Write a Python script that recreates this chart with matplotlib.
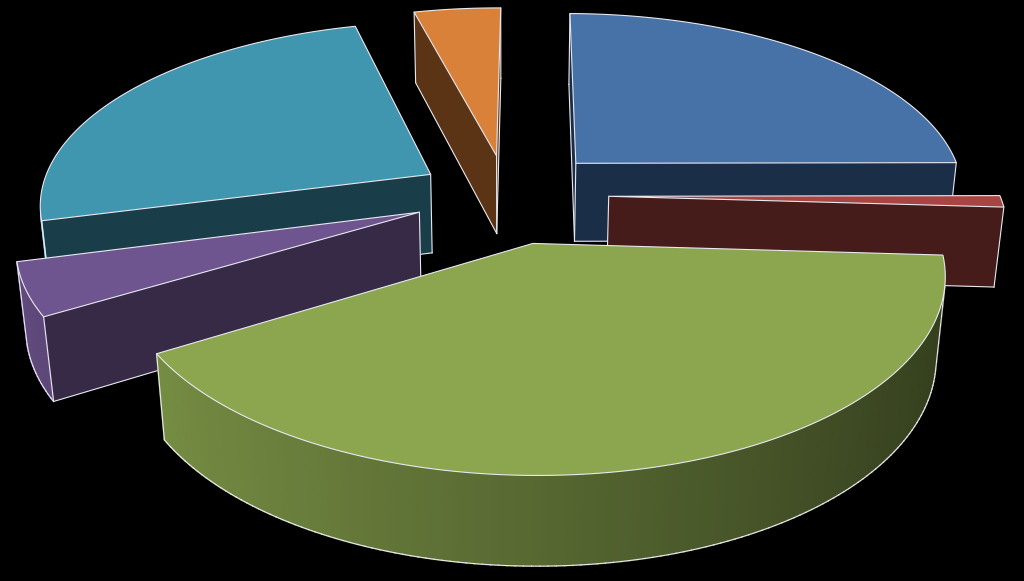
import numpy as np
import matplotlib
matplotlib.use('Agg')
import matplotlib.pyplot as plt

# share of each slice, clockwise from the start angle
labels = ['blue', 'red', 'green', 'purple', 'teal', 'orange']
values = [24.8, 1.0, 40.4, 4.55, 25.05, 4.2]
explode = [0.255, 0.26, 0.265, 0.24, 0.23, 0.225]
top_colors = ['#4672A8', '#A84442', '#8BA64F', '#6F5590', '#3F96AE', '#D98139']
wall_colors = ['#1A2E47', '#451C1A', '#7A9446', '#362A47', '#193E49', '#5B3416']
start_angle = 89.5

# camera for the fake 3d
cx, cy = 507, 195
radius, flat, depth = 391, 181, 81
persp_y, persp_z = 0.15, 0.02


def project(x, y, z):
    s = 1 / (1 + persp_y * y + persp_z * z)
    return cx + radius * x * s, cy - flat * y * s + depth * z * s


def area(q):
    q = np.array(q)
    a, b = q[:, 0], q[:, 1]
    return np.sum(a * np.roll(b, -1) - np.roll(a, -1) * b)


def shade(color, f):
    return np.array(matplotlib.colors.to_rgb(color)) * f


def draw_slice(ax, a0, a1, off, top, wall):
    mid = np.radians((a0 + a1) / 2)
    ox, oy = off * np.cos(mid), off * np.sin(mid)
    angs = np.radians(np.linspace(a0, a1, max(int(abs(a1 - a0)), 2) + 1))
    xs = np.r_[ox, ox + np.cos(angs)]
    ys = np.r_[oy, oy + np.sin(angs)]
    n = len(xs)
    pts = [project(xs[i], ys[i], 0) for i in range(n)]
    low = [project(xs[i], ys[i], 1) for i in range(n)]
    edge = '#E8E8F0'
    front = []
    for i in range(n):
        j = (i + 1) % n
        quad = [pts[i], pts[j], low[j], low[i]]
        is_front = area(quad) < 0
        front.append(is_front)
        if not is_front:
            continue
        if i == 0 or j == 0:
            col = wall
            lw = 0.3
        else:
            c = np.cos((angs[i - 1] + angs[j - 1]) / 2)
            col = shade(top, np.interp(c, [-1, 1], [0.88, 0.37]))
            lw = 1.2
        ax.fill(*zip(*quad), facecolor=col, edgecolor=col, lw=lw, zorder=2)
    for i in range(n):
        j = (i + 1) % n
        if front[i]:
            ax.plot(*zip(low[i], low[j]), color=edge, lw=0.8, zorder=2)
        # vertical line wherever the facing changes or a flat wall starts
        if front[i] != front[i - 1] or (front[i] and i in (0, 1, n - 1)):
            ax.plot(*zip(pts[i], low[i]), color=edge, lw=0.8, zorder=2)
    ax.fill(*zip(*pts), facecolor=top, edgecolor=edge, lw=0.8, zorder=2)


fig = plt.figure(figsize=(10.24, 5.81), dpi=100, facecolor='black')
ax = fig.add_axes([0, 0, 1, 1])
ax.set_xlim(0, 1024)
ax.set_ylim(581, 0)
ax.axis('off')

spans = np.array(values) / sum(values) * 360
ends = start_angle - np.cumsum(spans)
starts = ends + spans
mids = np.radians((starts + ends) / 2)
order = np.argsort(-np.array(explode) * np.sin(mids))
for k in order:
    draw_slice(ax, starts[k], ends[k], explode[k], top_colors[k], wall_colors[k])

fig.savefig('out.png', dpi=100, facecolor='black')
